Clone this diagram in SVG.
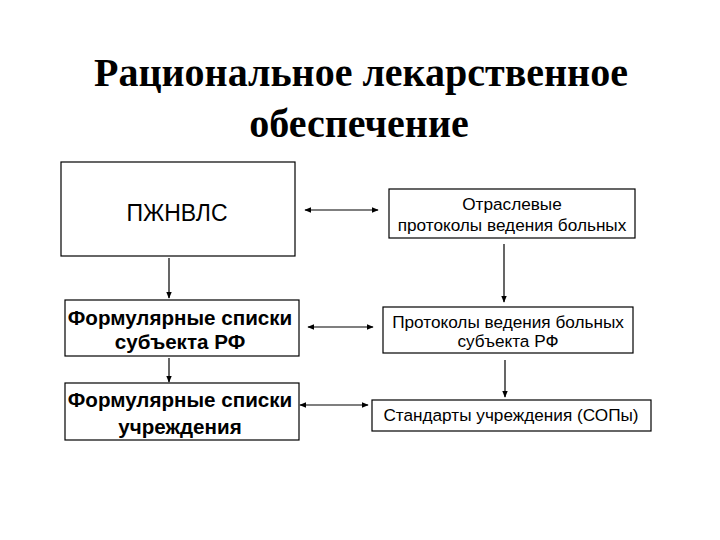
<svg xmlns="http://www.w3.org/2000/svg" width="720" height="540" viewBox="0 0 720 540">
<style>
.box{fill:#fff;stroke:#000;stroke-width:1.2}
.t{font-family:"Liberation Sans",Arial,sans-serif;fill:#000;text-anchor:middle}
.b{font-weight:bold;font-size:20.6px}
.s{font-size:17.2px}
.title{font-family:"Liberation Serif","Times New Roman",serif;font-weight:bold;font-size:40px;text-anchor:middle;fill:#000}
.c{stroke:#000;stroke-width:1.2;fill:none}
</style>
<defs>
<marker id="ah" viewBox="0 0 10 10" refX="9" refY="5" markerWidth="7" markerHeight="7" markerUnits="userSpaceOnUse" orient="auto-start-reverse">
<path d="M0,1 L10,5 L0,9 z" fill="#000"/>
</marker>
</defs>
<rect width="720" height="540" fill="#fff"/>
<g id="title">
<text class="title" x="361" y="86">Рациональное лекарственное</text>
<text class="title" x="359" y="137">обеспечение</text>
</g>
<g id="connectors">
<line class="c" x1="305" y1="210" x2="378" y2="210" marker-start="url(#ah)" marker-end="url(#ah)"/>
<line class="c" x1="169" y1="258" x2="169" y2="298" marker-end="url(#ah)"/>
<line class="c" x1="504" y1="244" x2="504" y2="302" marker-end="url(#ah)"/>
<line class="c" x1="308" y1="327" x2="373" y2="327" marker-start="url(#ah)" marker-end="url(#ah)"/>
<line class="c" x1="169" y1="358" x2="169" y2="382" marker-end="url(#ah)"/>
<line class="c" x1="505" y1="360" x2="505" y2="397" marker-end="url(#ah)"/>
<line class="c" x1="300" y1="405" x2="368" y2="405" marker-start="url(#ah)" marker-end="url(#ah)"/>
</g>
<g id="n1">
<rect class="box" x="61" y="162" width="234" height="94"/>
<text class="t" x="177" y="221" font-size="23">ПЖНВЛС</text>
</g>
<g id="n2">
<rect class="box" x="389" y="189" width="246" height="49"/>
<text class="t s" x="512" y="210">Отраслевые</text>
<text class="t s" x="512" y="231">протоколы ведения больных</text>
</g>
<g id="n3">
<rect class="box" x="65" y="300" width="234" height="56"/>
<text class="t b" x="180" y="325">Формулярные списки</text>
<text class="t b" x="180" y="349">субъекта РФ</text>
</g>
<g id="n4">
<rect class="box" x="383" y="307" width="250" height="46"/>
<text class="t s" x="508" y="328">Протоколы ведения больных</text>
<text class="t s" x="508" y="347">субъекта РФ</text>
</g>
<g id="n5">
<rect class="box" x="65" y="383" width="234" height="57"/>
<text class="t b" x="180" y="407">Формулярные списки</text>
<text class="t b" x="180" y="434">учреждения</text>
</g>
<g id="n6">
<rect class="box" x="372" y="400" width="279" height="31"/>
<text class="t s" x="511" y="421">Стандарты учреждения (СОПы)</text>
</g>
</svg>
